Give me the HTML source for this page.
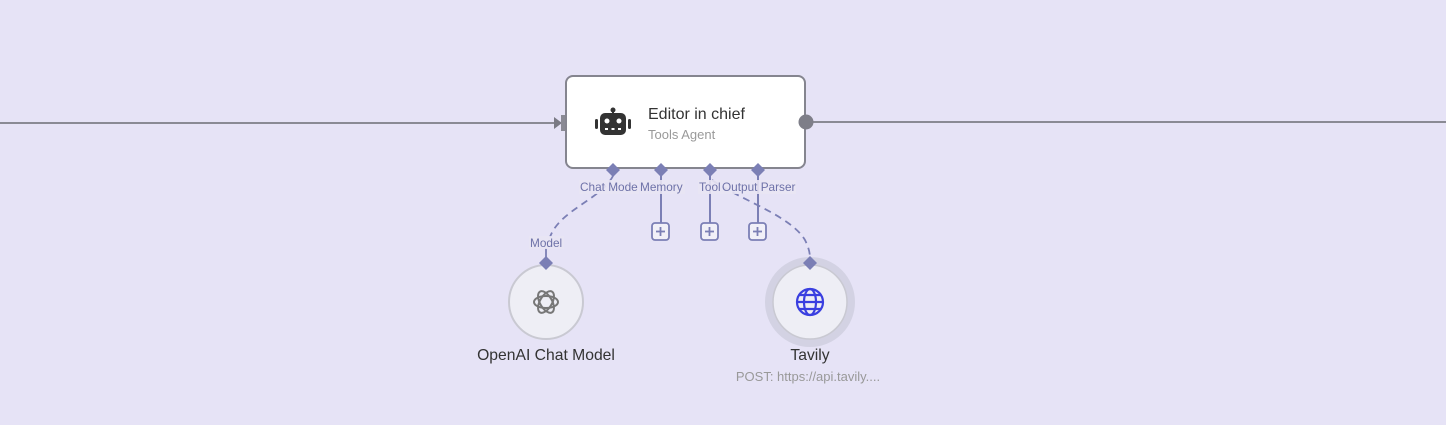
<!DOCTYPE html>
<html><head><style>
body{margin:0;background:#e6e3f6;}
svg{display:block;font-family:"Liberation Sans",sans-serif;}
</style></head><body>
<svg width="1446" height="425" viewBox="0 0 1446 425">
<rect width="1446" height="425" fill="#e6e3f6"/>
<line x1="0" y1="123" x2="556" y2="123" stroke="#8a8a94" stroke-width="2"/>
<polygon points="554,117 562,123 554,129" fill="#7a7a84"/>
<rect x="561" y="115" width="7" height="16" fill="#8a8a94"/>
<line x1="806" y1="122" x2="1446" y2="122" stroke="#8a8a94" stroke-width="2"/>
<rect x="566" y="76" width="239" height="92" rx="7" fill="#fff" stroke="#85858f" stroke-width="2"/>
<circle cx="806" cy="122" r="7.5" fill="#7e7e88"/>
<g fill="#333">
<circle cx="613" cy="110" r="2.5"/><rect x="612" y="110" width="2" height="4"/>
<rect x="600" y="113" width="26" height="22" rx="5"/>
<rect x="595" y="119" width="3" height="10" rx="1.5"/><rect x="628" y="119" width="3" height="10" rx="1.5"/>
</g>
<g fill="#fff"><circle cx="607" cy="121" r="2.5"/><circle cx="619" cy="121" r="2.5"/>
<rect x="605" y="128" width="3" height="2"/><rect x="611.5" y="128" width="3" height="2"/><rect x="618" y="128" width="3" height="2"/></g>
<text x="648" y="119" font-size="16" fill="#333">Editor in chief</text>
<text x="648" y="139" font-size="13" fill="#999">Tools Agent</text>
<path d="M613,176 C600,200 560,210 550,237" fill="none" stroke="#7b7fb5" stroke-width="1.8" stroke-dasharray="7,5"/>
<line x1="546" y1="248" x2="546" y2="258" stroke="#7b7fb5" stroke-width="1.8"/>
<path d="M712,180 C740,200 790,215 805,240 Q810,250 810,258" fill="none" stroke="#7b7fb5" stroke-width="1.8" stroke-dasharray="7,5"/>
<g stroke="#7b7fb5" stroke-width="2">
<line x1="661" y1="174" x2="661" y2="223"/><line x1="710" y1="174" x2="710" y2="223"/><line x1="758" y1="174" x2="758" y2="223"/>
</g>
<g fill="#7b7fb5">
<polygon points="613,163 620,170 613,177 606,170"/>
<polygon points="661,163 668,170 661,177 654,170"/>
<polygon points="710,163 717,170 710,177 703,170"/>
<polygon points="758,163 765,170 758,177 751,170"/>
</g>
<g fill="#e9e6f4" opacity="0.9">
<rect x="579" y="180" width="60" height="14"/><rect x="640" y="180" width="45" height="14"/>
<rect x="698" y="180" width="98" height="14"/><rect x="529" y="236" width="35" height="13"/>
</g>
<g font-size="11.8" fill="#6e72a8">
<text x="580" y="191">Chat Mode</text><text x="640" y="191">Memory</text>
<text x="699" y="191">Tool</text><text x="722" y="191">Output Parser</text>
<text x="530" y="247">Model</text>
</g>
<g fill="#f1f0f8" stroke="#7b7fb5" stroke-width="1.8">
<rect x="652" y="223" width="17" height="17" rx="3"/><rect x="701" y="223" width="17" height="17" rx="3"/><rect x="749" y="223" width="17" height="17" rx="3"/>
</g>
<g stroke="#7b7fb5" stroke-width="1.8">
<line x1="660.5" y1="227" x2="660.5" y2="236"/><line x1="656" y1="231.5" x2="665" y2="231.5"/>
<line x1="709.5" y1="227" x2="709.5" y2="236"/><line x1="705" y1="231.5" x2="714" y2="231.5"/>
<line x1="757.5" y1="227" x2="757.5" y2="236"/><line x1="753" y1="231.5" x2="762" y2="231.5"/>
</g>
<circle cx="546" cy="302" r="37" fill="#eeeef5" stroke="#c9c9d2" stroke-width="2"/>
<polygon points="546,256 553,263 546,270 539,263" fill="#7b7fb5"/>
<g fill="none" stroke="#777" stroke-width="2">
<ellipse cx="546" cy="302" rx="12" ry="6"/>
<ellipse cx="546" cy="302" rx="12" ry="6" transform="rotate(60 546 302)"/>
<ellipse cx="546" cy="302" rx="12" ry="6" transform="rotate(120 546 302)"/>
</g>
<text x="546" y="360" font-size="15.7" fill="#333" text-anchor="middle">OpenAI Chat Model</text>
<circle cx="810" cy="302" r="41" fill="none" stroke="#d3d2e3" stroke-width="8"/>
<circle cx="810" cy="302" r="37" fill="#eeeef5" stroke="#c9c9d2" stroke-width="1.5"/>
<polygon points="810,256 817,263 810,270 803,263" fill="#7b7fb5"/>
<g fill="none" stroke="#3a3fe0" stroke-width="2.2">
<circle cx="810" cy="302" r="13"/>
<ellipse cx="810" cy="302" rx="6" ry="13"/>
<line x1="797" y1="302" x2="823" y2="302"/>
<line x1="799" y1="295" x2="821" y2="295"/><line x1="799" y1="309" x2="821" y2="309"/>
</g>
<text x="810" y="360" font-size="15.7" fill="#333" text-anchor="middle">Tavily</text>
<text x="808" y="381" font-size="13" fill="#999" text-anchor="middle">POST: https://api.tavily....</text>
</svg>
</body></html>
